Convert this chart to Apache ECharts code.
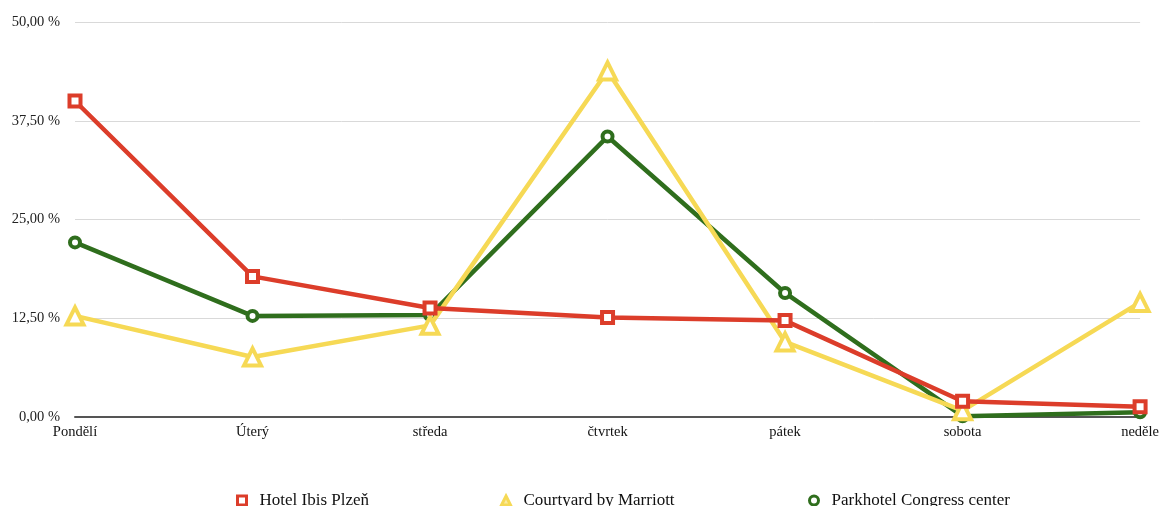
<!DOCTYPE html>
<html>
<head>
<meta charset="utf-8">
<script src="https://cdn.jsdelivr.net/npm/echarts@6/dist/echarts.min.js"></script>
<style>
  html, body { margin: 0; padding: 0; background: #ffffff; }
  #chart { width: 1162px; height: 506px; }
</style>
</head>
<body>
<div id="chart"></div>
<script>
// Days of the week and share of bookings per hotel (%)
const days = ['Pondělí', 'Úterý', 'středa', 'čtvrtek', 'pátek', 'sobota', 'neděle'];
const ibis = [40.0, 17.8, 13.8, 12.6, 12.2, 2.0, 1.3];
const courtyard = [12.8, 7.6, 11.6, 43.8, 9.5, 0.8, 14.5];
const parkhotel = [22.1, 12.8, 12.9, 35.5, 15.7, 0.1, 0.6];
const seriesNames = ['Hotel Ibis Plzeň', 'Courtyard by Marriott', 'Parkhotel Congress center'];

const RED = '#dc3d2a';
const YELLOW = '#f6d955';
const GREEN = '#2f6e1d';
const FONT = '"Liberation Serif", "DejaVu Serif", serif';

function pct(v) {
  return v.toFixed(2).replace('.', ',') + ' %';
}

function lineSeries(name, data, color, symbol, size, z) {
  return {
    name: name,
    type: 'line',
    data: data,
    z: z,
    symbol: symbol,
    symbolSize: size,
    showAllSymbol: true,
    lineStyle: { color: color, width: 4.5 },
    itemStyle: { color: '#ffffff', borderColor: color, borderWidth: 4 },
    emphasis: { disabled: true },
    animation: false
  };
}

function legendAt(left, name, icon, color, fill) {
  return {
    left: left,
    top: 492,
    padding: 0,
    data: [name],
    icon: icon,
    itemWidth: 9,
    itemHeight: 9,
    itemGap: 10,
    itemStyle: { color: fill, borderColor: color, borderWidth: 3 },
    textStyle: { fontFamily: FONT, fontSize: 17, color: '#111111', padding: [0, 0, 0, 8] },
    selectedMode: false
  };
}

const chart = echarts.init(document.getElementById('chart'), null, { renderer: 'canvas' });
chart.setOption({
  backgroundColor: '#ffffff',
  animation: false,
  grid: { left: 75, right: 20, top: 22, bottom: 89, containLabel: false },
  legend: [
    legendAt(236, seriesNames[0], 'rect', RED, '#ffffff'),
    legendAt(500, seriesNames[1], 'triangle', YELLOW, '#fbeaa0'),
    legendAt(808, seriesNames[2], 'circle', GREEN, '#ffffff')
  ],
  xAxis: {
    type: 'category',
    data: days,
    boundaryGap: false,
    axisLine: { show: true, lineStyle: { color: '#555555', width: 2 } },
    axisTick: { show: false },
    axisLabel: { fontFamily: FONT, fontSize: 14.5, color: '#111111', margin: 8, interval: 0 },
    splitLine: { show: false }
  },
  yAxis: {
    type: 'value',
    min: 0,
    max: 50,
    interval: 12.5,
    axisLine: { show: false },
    axisTick: { show: false },
    axisLabel: { fontFamily: FONT, fontSize: 14.5, color: '#222222', margin: 15, padding: [3, 0, 0, 0], formatter: pct },
    splitLine: { lineStyle: { color: '#d9d9d9', width: 1 } }
  },
  series: [
    lineSeries(seriesNames[0], ibis, RED, 'rect', 11, 4),
    lineSeries(seriesNames[1], courtyard, YELLOW, 'triangle', 17, 3),
    lineSeries(seriesNames[2], parkhotel, GREEN, 'circle', 10, 2)
  ]
});
</script>
</body>
</html>
